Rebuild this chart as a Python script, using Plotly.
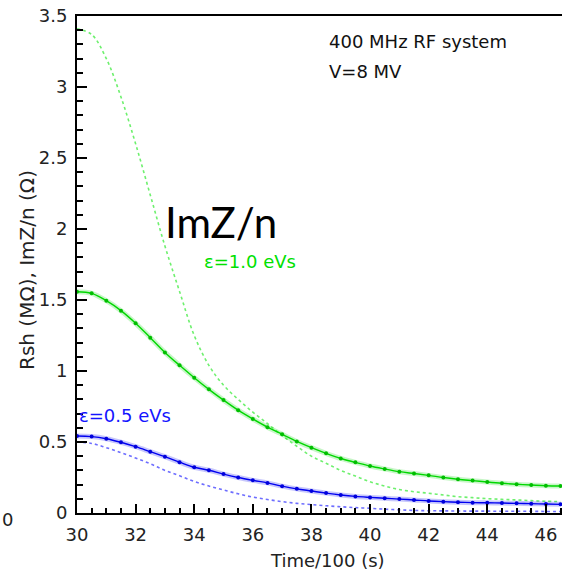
import plotly.graph_objects as go

time = [30, 30.5, 31, 31.5, 32, 32.5, 33, 33.5, 34, 34.5, 35, 35.5, 36, 36.5,
        37, 37.5, 38, 38.5, 39, 39.5, 40, 40.5, 41, 41.5, 42, 42.5, 43, 43.5,
        44, 44.5, 45, 45.5, 46, 46.5]

rsh_e10 = [1.558, 1.547, 1.495, 1.425, 1.336, 1.235, 1.131, 1.040, 0.953, 0.871,
           0.795, 0.724, 0.662, 0.604, 0.554, 0.504, 0.460, 0.420, 0.384, 0.357,
           0.331, 0.310, 0.291, 0.278, 0.265, 0.250, 0.238, 0.228, 0.218, 0.209,
           0.202, 0.197, 0.192, 0.190]

rsh_e05 = [0.542, 0.538, 0.523, 0.498, 0.467, 0.432, 0.397, 0.358, 0.322, 0.301,
           0.274, 0.250, 0.230, 0.212, 0.189, 0.170, 0.155, 0.140, 0.127, 0.117,
           0.110, 0.104, 0.098, 0.092, 0.085, 0.080, 0.076, 0.073, 0.072, 0.070,
           0.068, 0.066, 0.063, 0.061]

imz_e10 = [3.41, 3.37, 3.20, 2.93, 2.60, 2.24, 1.88, 1.56, 1.25, 1.04,
           0.90, 0.80, 0.71, 0.63, 0.545, 0.47, 0.40, 0.35, 0.30, 0.26,
           0.22, 0.19, 0.165, 0.15, 0.139, 0.127, 0.115, 0.108, 0.101, 0.096,
           0.092, 0.087, 0.083, 0.080]

imz_e05 = [0.50, 0.49, 0.46, 0.425, 0.387, 0.347, 0.30, 0.262, 0.222, 0.19,
           0.162, 0.135, 0.112, 0.095, 0.080, 0.068, 0.059, 0.051, 0.044, 0.038,
           0.033, 0.027, 0.022, 0.018, 0.016, 0.015, 0.014, 0.013, 0.013, 0.012,
           0.012, 0.012, 0.011, 0.011]

x_ticks = [30, 32, 34, 36, 38, 40, 42, 44, 46]
y_ticks = [0, 0.5, 1, 1.5, 2, 2.5, 3, 3.5]
y_tick_text = ["0", "0.5", "1", "1.5", "2", "2.5", "3", "3.5"]

GREEN = "rgb(0,215,0)"
GREEN_LIGHT = "rgb(110,240,110)"
BLUE = "rgb(0,0,240)"
BLUE_LIGHT = "rgb(110,110,255)"

fig = go.Figure()

# dotted ImZ/n curves
fig.add_trace(go.Scatter(x=time, y=imz_e10, mode="lines", line=dict(color=GREEN_LIGHT, width=1.6, dash="dot", shape="spline"), showlegend=False))
fig.add_trace(go.Scatter(x=time, y=imz_e05, mode="lines", line=dict(color=BLUE_LIGHT, width=1.6, dash="dot", shape="spline"), showlegend=False))

# halo behind solid curves
fig.add_trace(go.Scatter(x=time, y=rsh_e10, mode="lines", line=dict(color="rgba(0,215,0,0.22)", width=5, shape="spline"), showlegend=False))
fig.add_trace(go.Scatter(x=time, y=rsh_e05, mode="lines", line=dict(color="rgba(0,0,240,0.22)", width=5, shape="spline"), showlegend=False))

# solid Rsh curves with markers
fig.add_trace(go.Scatter(x=time, y=rsh_e10, mode="lines+markers", line=dict(color=GREEN, width=1.4, shape="spline"),
                         marker=dict(color="rgb(0,190,0)", size=4), showlegend=False))
fig.add_trace(go.Scatter(x=time, y=rsh_e05, mode="lines+markers", line=dict(color=BLUE, width=1.4, shape="spline"),
                         marker=dict(color="rgb(0,0,220)", size=4), showlegend=False))

FONT = "DejaVu Sans"

fig.update_layout(
    width=562, height=573,
    margin=dict(l=77, r=0, t=16, b=60),
    paper_bgcolor="white", plot_bgcolor="white",
    font=dict(family=FONT, size=18, color="#222"),
    xaxis=dict(range=[30, 46.55], tickvals=x_ticks, ticks="inside", ticklen=9, tickwidth=2, tickcolor="black",
               showline=True, linecolor="black", linewidth=2, mirror=True, showgrid=False, zeroline=False,
               minor=dict(dtick=0.5, tick0=30, ticks="inside", ticklen=5, tickwidth=1.5, tickcolor="black", showgrid=False),
               tickfont=dict(family=FONT, size=18, color="#222"), ticklabelstandoff=4),
    yaxis=dict(range=[0, 3.5], tickvals=y_ticks, ticktext=y_tick_text, ticks="inside", ticklen=10, tickwidth=2, tickcolor="black",
               showline=True, linecolor="black", linewidth=2, showgrid=False, zeroline=False,
               minor=dict(dtick=0.1, tick0=0, ticks="inside", ticklen=6, tickwidth=1.5, tickcolor="black", showgrid=False),
               tickfont=dict(family=FONT, size=18, color="#222"), ticklabelstandoff=4),
)

def px_x(p):
    return (p - 77) / 485.0

def px_y(p):
    return (513 - p) / 497.0

annots = [
    dict(text="Time/100 (s)", x=px_x(327), y=px_y(560), xanchor="center", yanchor="middle", font=dict(family=FONT, size=18, color="#222")),
    dict(text="Rsh (MΩ), ImZ/n (Ω)", x=px_x(27), y=px_y(270), xanchor="center", yanchor="middle", textangle=-90, font=dict(family=FONT, size=20, color="#222")),
    dict(text="400 MHz RF system", x=px_x(327), y=px_y(41.5), xanchor="left", yanchor="middle", font=dict(family=FONT, size=18, color="#111")),
    dict(text="V=8 MV", x=px_x(327), y=px_y(72), xanchor="left", yanchor="middle", font=dict(family=FONT, size=18, color="#111")),
    dict(text="ImZ/n", x=px_x(221), y=px_y(222), xanchor="center", yanchor="middle", font=dict(family="Lato", size=42, color="black")),
    dict(text="ε=1.0 eVs", x=px_x(202), y=px_y(261), xanchor="left", yanchor="middle", font=dict(family=FONT, size=18, color="rgb(0,225,0)")),
    dict(text="ε=0.5 eVs", x=px_x(77), y=px_y(415), xanchor="left", yanchor="middle", font=dict(family=FONT, size=18, color="rgb(20,20,255)")),
    dict(text="0", x=px_x(0), y=px_y(519), xanchor="left", yanchor="middle", font=dict(family=FONT, size=18, color="#222")),
]
for a in annots:
    a.update(xref="paper", yref="paper", showarrow=False)
    fig.add_annotation(**a)

fig.write_html("out.html")
